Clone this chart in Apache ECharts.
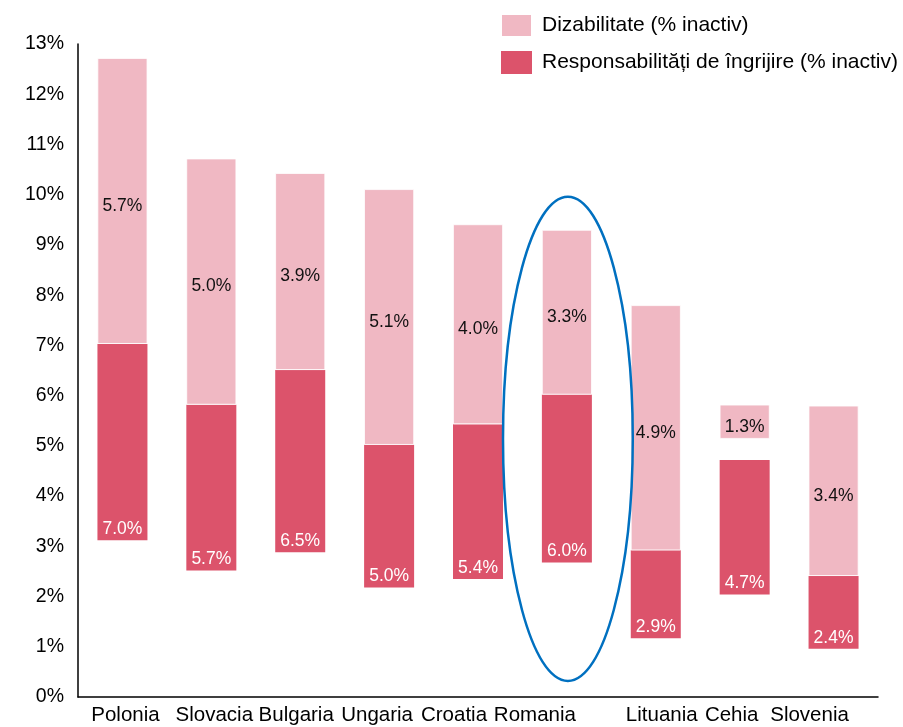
<!DOCTYPE html>
<html>
<head>
<meta charset="utf-8">
<script src="https://cdn.jsdelivr.net/npm/echarts@6/dist/echarts.min.js"></script>
<style>
  html, body { margin: 0; padding: 0; background: #fff; }
  #chart { width: 903px; height: 727px; }
</style>
</head>
<body>
<div id="chart"></div>
<script>
// categorii si valori
const categories = ['Polonia', 'Slovacia', 'Bulgaria', 'Ungaria', 'Croatia', 'Romania', 'Lituania', 'Cehia', 'Slovenia']

// etichetele afisate pe bare (%)
const careLabels = [7.0, 5.7, 6.5, 5.0, 5.4, 6.0, 2.9, 4.7, 2.4]
const disLabels  = [5.7, 5.0, 3.9, 5.1, 4.0, 3.3, 4.9, 1.3, 3.4]

// capetele vizibile ale barelor (%), asa cum apar in grafic
const careFrom = [3.12, 2.52, 2.88, 2.18, 2.35, 2.68, 1.17, 2.04, 0.96]
const careTo   = [7.03, 5.82, 6.51, 5.02, 5.43, 6.02, 2.92, 4.72, 2.41]
const disFrom  = [7.03, 5.82, 6.51, 5.02, 5.43, 6.02, 2.92, 5.14, 2.41]
const disTo    = [12.72, 10.72, 10.43, 10.11, 9.41, 9.30, 7.80, 5.82, 5.80]

// axa Y
const yTicks = [0, 1, 2, 3, 4, 5, 6, 7, 8, 9, 10, 11, 12, 13]

// elipsa care marcheaza Romania
const markCategory = 'Romania'
const markTop = 9.96
const markBottom = 0.32

// deplasarea etichetelor de pe axa X (px), ca in original
const labelShift = [3, 3, -4, -12, -24, -32, 6, -13, -24]

const FONT = 'Liberation Sans, Arial, sans-serif'
const DARK = '#DC536B'
const LIGHT = '#F0B8C3'

let rich = {}
labelShift.forEach((s, i) => {
  rich['s' + i] = {
    fontSize: 20.5,
    fontFamily: FONT,
    color: '#000',
    padding: s > 0 ? [0, 0, 0, 2 * s] : [0, -2 * s, 0, 0]
  }
})

const chart = echarts.init(document.getElementById('chart'))

const option = {
  animation: false,
  textStyle: { fontFamily: FONT },
  grid: { left: 78, right: 25, top: 44, bottom: 30 },
  legend: {
    orient: 'vertical',
    left: 495,
    top: 8,
    itemWidth: 31,
    itemHeight: 23,
    itemGap: 13,
    icon: 'rect',
    data: ['Dizabilitate (% inactiv)', 'Responsabilități de îngrijire (% inactiv)'],
    textStyle: { fontSize: 21, color: '#000', fontFamily: FONT, padding: [0, 0, 0, 5] }
  },
  xAxis: {
    type: 'category',
    data: categories,
    axisLine: { lineStyle: { color: '#000', width: 1.5 } },
    axisTick: { show: false },
    axisLabel: {
      interval: 0,
      margin: 8,
      formatter: (value, idx) => '{s' + idx + '|' + value + '}',
      rich: rich
    }
  },
  yAxis: {
    type: 'value',
    min: yTicks[0],
    max: yTicks[yTicks.length - 1],
    interval: 1,
    axisLine: { show: true, lineStyle: { color: '#000', width: 1.5 } },
    axisTick: { show: false },
    splitLine: { show: false },
    axisLabel: { formatter: '{value}%', color: '#000', fontSize: 19.5, margin: 14, fontFamily: FONT }
  },
  series: [
    {
      name: 'base',
      type: 'bar',
      stack: 'a',
      barWidth: 50,
      itemStyle: { color: 'transparent' },
      emphasis: { disabled: true },
      data: careFrom
    },
    {
      name: 'Responsabilități de îngrijire (% inactiv)',
      type: 'bar',
      stack: 'a',
      barWidth: 50,
      itemStyle: { color: DARK },
      label: {
        show: true,
        position: 'insideBottom',
        distance: 2,
        color: '#fff',
        fontSize: 17.5,
        fontFamily: FONT,
        formatter: (p) => careLabels[p.dataIndex].toFixed(1) + '%'
      },
      data: careTo.map((v, i) => +(v - careFrom[i]).toFixed(2))
    },
    {
      name: 'gap',
      type: 'bar',
      stack: 'a',
      barWidth: 50,
      itemStyle: { color: 'transparent' },
      emphasis: { disabled: true },
      data: disFrom.map((v, i) => +(v - careTo[i]).toFixed(2))
    },
    {
      name: 'Dizabilitate (% inactiv)',
      type: 'bar',
      stack: 'a',
      barWidth: 50,
      itemStyle: { color: LIGHT, borderColor: '#fff', borderWidth: 0.8 },
      label: {
        show: true,
        position: 'inside',
        offset: [0, 5],
        color: '#111',
        fontSize: 17.5,
        fontFamily: FONT,
        formatter: (p) => disLabels[p.dataIndex].toFixed(1) + '%'
      },
      data: disTo.map((v, i) => +(v - disFrom[i]).toFixed(2))
    }
  ]
}

chart.setOption(option)

// elipsa albastra in jurul Romaniei, pozitionata prin axele graficului
let mIdx = categories.indexOf(markCategory)
let pTop = chart.convertToPixel({ gridIndex: 0 }, [mIdx, markTop])
let pBottom = chart.convertToPixel({ gridIndex: 0 }, [mIdx, markBottom])
let pNext = chart.convertToPixel({ gridIndex: 0 }, [mIdx + 1, markTop])
let band = pNext[0] - pTop[0]
chart.setOption({
  graphic: [{
    type: 'ellipse',
    shape: {
      cx: pTop[0] + 1,
      cy: (pTop[1] + pBottom[1]) / 2,
      rx: band * 0.73,
      ry: (pBottom[1] - pTop[1]) / 2
    },
    style: { fill: 'none', stroke: '#0070C0', lineWidth: 2.5 },
    z: 100
  }]
})
</script>
</body>
</html>
